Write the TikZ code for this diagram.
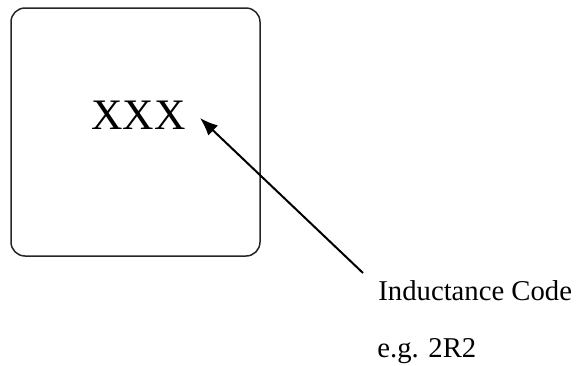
\documentclass[tikz,border=0pt]{standalone}
\usepackage{fontspec}
\setmainfont{Liberation Serif}
\usetikzlibrary{arrows.meta}
\begin{document}
\begin{tikzpicture}[x=0.5pt,y=-0.5pt,
  partbox/.style={draw=black!85,line width=0.75pt,rounded corners=7pt},
  bigtext/.style={inner sep=0pt,anchor=base west,font=\fontsize{21.75}{26}\selectfont},
  labeltext/.style={inner sep=0pt,anchor=base west,font=\fontsize{14.35}{17}\selectfont},
  pointer/.style={draw=black,line width=1pt,-{Latex[length=9pt,width=7pt]}}]
\useasboundingbox (0,0) rectangle (576,365);
\draw[partbox] (11,8) rectangle (260,256);
\node[bigtext] (xxx) at (91,129) {XXX};
\node[labeltext] (code) at (378,300) {Inductance Code};
\node[labeltext] (eg) at (377,357) {e.g. 2R2};
\coordinate (tail) at (363,273);
\coordinate (tip) at (200,118);
\draw[pointer] (tail) -- (tip);
\end{tikzpicture}
\end{document}
